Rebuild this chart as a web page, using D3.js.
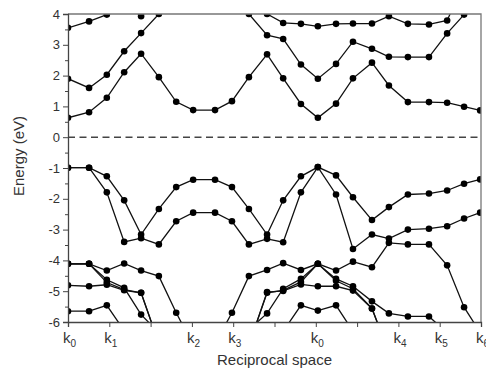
<!DOCTYPE html>
<html>
<head>
<meta charset="utf-8">
<script src="https://cdn.jsdelivr.net/npm/d3@7"></script>
<style>
  body { margin: 0; background: #fff; }
  svg { display: block; font-family: 'Liberation Sans', Arial, sans-serif; }
</style>
</head>
<body>
<div id="chart"></div>
<script>
// k-path sample positions (in units of the x ticks)
const kPos = [0, 0.51, 0.94, 1.36, 1.77, 2.2, 2.62, 3.03, 3.56, 3.97, 4.38, 4.82,
  5.21, 5.64, 6.05, 6.49, 6.9, 7.36, 7.77, 8.23, 8.74, 9.18, 9.59, 9.98]

const kTicks = [0, 1, 2, 3, 4, 5, 6, 7, 8, 9, 10]
const kNames = ['0', '1', null, '2', '3', null, '0', null, '4', '5', '6']
const energyTicks = [-6, -5, -4, -3, -2, -1, 0, 1, 2, 3, 4]

// conduction bands (null = far outside the window)
const cb1 = [0.63, 0.81, 1.28, 2.11, 2.71, 1.95, 1.15, 0.88, 0.88, 1.17, 1.95, 2.69,
  1.91, 1.08, 0.63, 1.09, 1.91, 2.42, 1.68, 1.14, 1.14, 1.12, 0.99, 0.87]
const cb2 = [1.9, 1.6, 2.03, 2.79, 3.38, 4.0, 4.6, null, null, 4.6, 4.0, 3.31,
  3.19, 2.36, 1.9, 2.38, 3.1, 2.87, 2.61, 2.6, 2.6, 3.37, 3.98, 4.6]
const cb3 = [3.55, 3.76, 3.98, 4.35, 3.93, 4.4, null, null, null, null, null, null,
  null, null, null, null, null, null, null, null, null, null, null, null]
const cb4 = [null, null, null, null, null, null, null, null, null, null, 4.3, 4.0,
  3.71, 3.68, 3.6, 3.68, 3.69, 3.69, 3.93, 3.68, 3.66, 3.79, 5.0, null]

// valence bands
const vb1 = [-0.99, -0.99, -1.27, -2.05, -3.16, -2.33, -1.62, -1.38, -1.38, -1.62, -2.33, -3.16,
  -2.05, -1.27, -0.97, -1.24, -1.95, -2.69, -2.27, -1.86, -1.83, -1.73, -1.51, -1.37]
const vb2 = [-0.99, -0.99, -1.79, -3.4, -3.28, -3.48, -2.73, -2.45, -2.45, -2.73, -3.48, -3.3,
  -3.41, -1.79, -0.97, -1.86, -3.63, -3.16, -3.29, -3.0, -2.97, -2.89, -2.64, -2.45]
const vb3 = [-4.11, -4.11, -4.33, -4.1, -4.33, -4.51, -5.7, -6.75, -6.7, -5.7, -4.51, -4.31,
  -4.09, -4.31, -4.11, -4.33, -4.04, -4.22, -3.43, -3.48, -3.48, -4.16, -5.52, -6.34]
const vb4 = [-4.11, -4.11, -4.63, -4.89, -5.76, -6.35, null, null, null, null, -6.25, -5.72,
  -4.92, -4.6, -4.11, -4.6, -4.84, -5.33, -5.72, -5.82, -5.82, -6.35, null, null]
const vb5 = [-4.11, -4.11, -4.72, -4.95, -5.05, -6.7, null, null, null, null, -6.75, -5.05,
  -4.97, -4.7, -4.11, -4.66, -4.92, -5.56, -7.0, null, null, null, null, null]
const vb6 = [-4.81, -4.84, -4.79, -4.97, -5.05, -6.7, null, null, null, null, -6.75, -5.03,
  -4.99, -4.78, -4.84, -4.84, -4.98, -5.56, -7.0, null, null, null, null, null]
const vb7 = [-5.65, -5.65, -5.46, -6.28, null, null, null, null, null, null, null, null,
  -6.3, -5.46, -5.63, -5.46, -6.3, null, null, null, null, null, null, null]

const bands = [cb1, cb2, cb3, cb4, vb1, vb2, vb3, vb4, vb5, vb6, vb7]

const W = 486
const H = 371
const margin = { top: 14, right: 5, bottom: 49, left: 68 }
const width = W - margin.left - margin.right
const height = H - margin.top - margin.bottom

const svg = d3.select('#chart').append('svg')
  .attr('width', W)
  .attr('height', H)

const g = svg.append('g')
  .attr('transform', `translate(${margin.left},${margin.top})`)

const x = d3.scaleLinear().domain([0, 10]).range([0, width])
const y = d3.scaleLinear().domain([-6, 4]).range([height, 0])

g.append('clipPath').attr('id', 'plot')
  .append('rect').attr('width', width).attr('height', height)

// zero line
g.append('line')
  .attr('x1', 0).attr('x2', width)
  .attr('y1', y(0)).attr('y2', y(0))
  .attr('stroke', '#444')
  .attr('stroke-width', 1.5)
  .attr('stroke-dasharray', '7,4.5')

// bands
const plot = g.append('g').attr('clip-path', 'url(#plot)')
const line = d3.line()
  .defined((d) => d != null)
  .x((d, i) => x(kPos[i]))
  .y((d) => y(d))

bands.forEach((band) => {
  plot.append('path')
    .datum(band)
    .attr('fill', 'none')
    .attr('stroke', '#111')
    .attr('stroke-width', 1.3)
    .attr('d', line)
  plot.selectAll(null)
    .data(band.map((e, i) => [kPos[i], e]).filter((d) => d[1] != null))
    .join('circle')
    .attr('cx', (d) => x(d[0]))
    .attr('cy', (d) => y(d[1]))
    .attr('r', 3.3)
    .attr('fill', '#000')
})

// frame top / right
g.append('path')
  .attr('d', `M0,0H${width}V${height}`)
  .attr('fill', 'none')
  .attr('stroke', '#777')
  .attr('stroke-width', 1.3)

// y axis
const yAxis = g.append('g')
  .call(d3.axisLeft(y).tickValues(energyTicks).tickSize(5).tickPadding(3)
    .tickFormat((d) => String(d)))
g.append('g')
  .call(d3.axisLeft(y).tickValues(d3.range(-5.5, 4, 1)).tickSize(3).tickFormat(''))
  .call((a) => a.select('.domain').remove())

// x axis
const xAxis = g.append('g')
  .attr('transform', `translate(0,${height})`)
  .call(d3.axisBottom(x).tickValues(kTicks).tickSize(5).tickFormat(''))

g.selectAll('.domain').attr('stroke', '#444').attr('stroke-width', 1.3)
g.selectAll('.tick line').attr('stroke', '#444')
yAxis.selectAll('.tick text')
  .attr('font-size', 13)
  .attr('fill', '#333')
  .attr('font-family', "'Liberation Sans', Arial, sans-serif")

const kLabels = g.append('g')
  .selectAll('text')
  .data(kTicks.filter((t, i) => kNames[i] != null))
  .join('text')
  .attr('x', (d) => x(d) - 5)
  .attr('y', height + 21)
  .attr('font-size', 15)
  .attr('fill', '#333')
kLabels.append('tspan').text('k')
kLabels.append('tspan')
  .attr('dy', 4)
  .attr('font-size', 10)
  .text((d) => kNames[kTicks.indexOf(d)])

// axis titles
svg.append('text')
  .attr('x', margin.left + width / 2)
  .attr('y', H - 6)
  .attr('text-anchor', 'middle')
  .attr('font-size', 15)
  .attr('fill', '#333')
  .text('Reciprocal space')

svg.append('text')
  .attr('transform', `translate(24,${margin.top + height / 2 - 12}) rotate(-90)`)
  .attr('text-anchor', 'middle')
  .attr('font-size', 15)
  .attr('fill', '#333')
  .text('Energy (eV)')
</script>
</body>
</html>
